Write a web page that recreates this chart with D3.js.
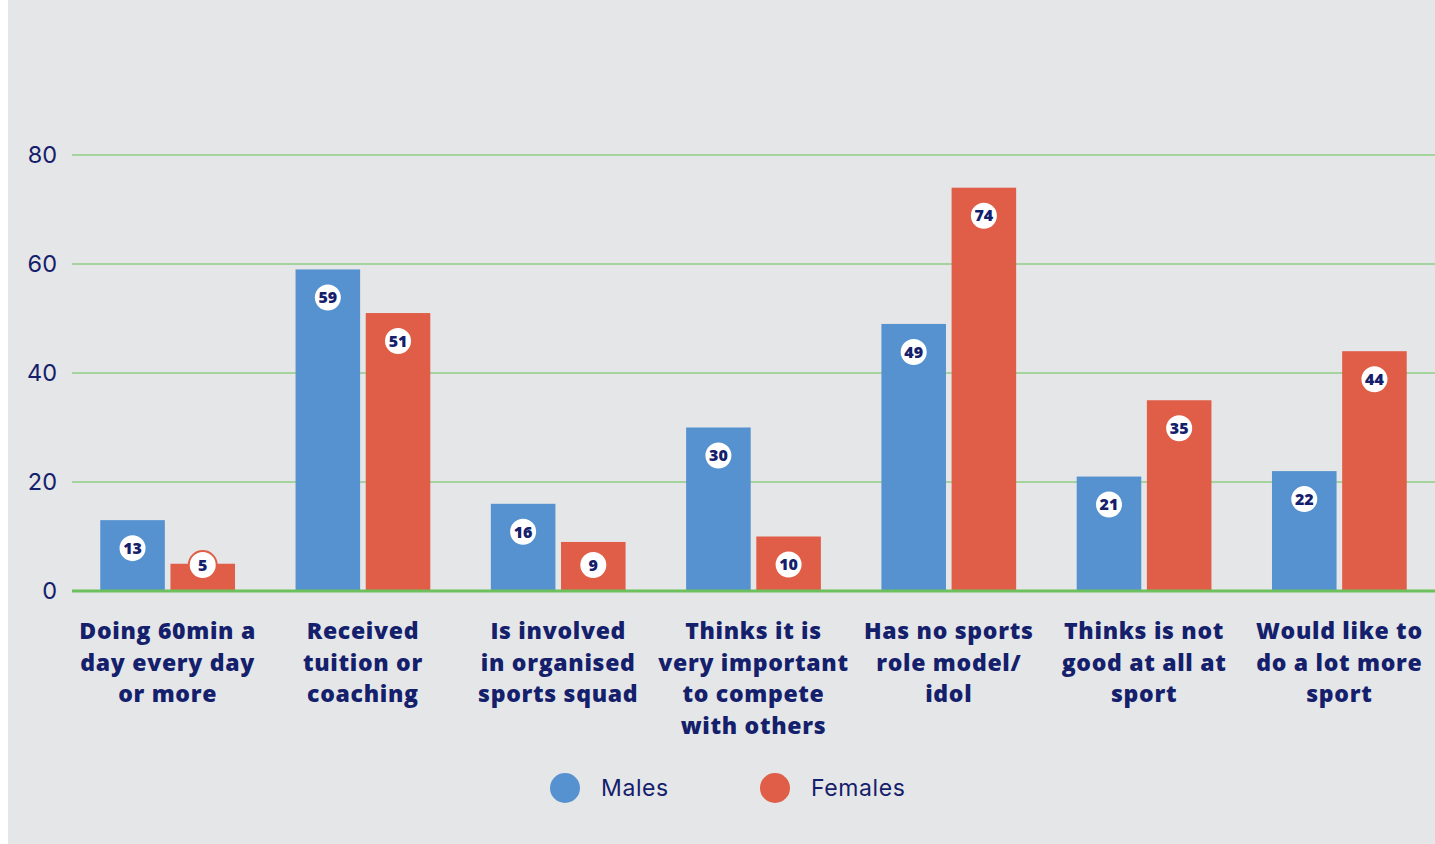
<!DOCTYPE html>
<html>
<head>
<meta charset="utf-8">
<script src="https://cdn.jsdelivr.net/npm/d3@7"></script>
<style>
  html, body { margin: 0; padding: 0; background: #ffffff; }
  svg { display: block; }
</style>
</head>
<body>
<div id="chart"></div>
<script>
// data (percent)
var categories = [
    ["Doing 60min a", "day every day", "or more"],
    ["Received", "tuition or", "coaching"],
    ["Is involved", "in organised", "sports squad"],
    ["Thinks it is", "very important", "to compete", "with others"],
    ["Has no sports", "role model/", "idol"],
    ["Thinks is not", "good at all at", "sport"],
    ["Would like to", "do a lot more", "sport"]
];
var males = [13, 59, 16, 30, 49, 21, 22];
var females = [5, 51, 9, 10, 74, 35, 44];
var seriesNames = ["Males", "Females"];
var yTicks = [0, 20, 40, 60, 80];

var W = 1435, H = 844;
var navy = "#14206b";
var colors = { "Males": "#5592cf", "Females": "#e05e47" };

var svg = d3.select("#chart").append("svg")
    .attr("width", W)
    .attr("height", H);

svg.append("rect")
    .attr("x", 8).attr("y", 0)
    .attr("width", W - 8).attr("height", H)
    .attr("fill", "#e5e6e8");

var y = d3.scaleLinear().domain([0, 80]).range([591, 155]);

var x0 = d3.scaleBand()
    .domain(d3.range(categories.length))
    .range([70, 1437])
    .paddingInner(0.31)
    .paddingOuter(0.155);

var x1 = d3.scaleBand()
    .domain(seriesNames)
    .range([0, x0.bandwidth()])
    .paddingInner(0.08);

// gridlines + tick labels
svg.selectAll(".grid")
    .data(yTicks.filter(t => t > 0))
    .enter().append("line")
    .attr("x1", 72).attr("x2", W)
    .attr("y1", d => y(d)).attr("y2", d => y(d))
    .attr("stroke", "#8fcd86")
    .attr("stroke-width", 1.3);

svg.selectAll(".ytick")
    .data(yTicks)
    .enter().append("text")
    .attr("x", 57)
    .attr("y", d => y(d))
    .attr("dy", "0.35em")
    .attr("text-anchor", "end")
    .attr("font-family", "Inter, 'Open Sans', sans-serif")
    .attr("font-size", 23.5)
    .attr("fill", navy)
    .text(d => d);

var rows = categories.map((c, i) => ({ i: i, Males: males[i], Females: females[i] }));

var groups = svg.selectAll(".group")
    .data(rows)
    .enter().append("g")
    .attr("transform", d => "translate(" + x0(d.i) + ",0)");

var bars = groups.selectAll(".bar")
    .data(d => seriesNames.map(k => ({ key: k, value: d[k] })))
    .enter();

bars.append("rect")
    .attr("x", d => x1(d.key))
    .attr("y", d => y(d.value))
    .attr("width", x1.bandwidth())
    .attr("height", d => y(0) - y(d.value))
    .attr("fill", d => colors[d.key]);

// baseline
svg.append("line")
    .attr("x1", 72).attr("x2", W)
    .attr("y1", y(0)).attr("y2", y(0))
    .attr("stroke", "#6cc15c")
    .attr("stroke-width", 3);

// value badges
var labelY = d => Math.min(y(d.value) + 28, y(0) - 26);

bars.append("circle")
    .attr("cx", d => x1(d.key) + x1.bandwidth() / 2)
    .attr("cy", labelY)
    .attr("r", 14)
    .attr("fill", "#ffffff")
    .attr("stroke", d => colors[d.key])
    .attr("stroke-width", 2);

bars.append("text")
    .attr("x", d => x1(d.key) + x1.bandwidth() / 2)
    .attr("y", labelY)
    .attr("dy", "0.36em")
    .attr("text-anchor", "middle")
    .attr("font-family", "'Open Sans', sans-serif")
    .attr("font-weight", 800)
    .attr("font-size", 16)
    .attr("fill", navy)
    .text(d => d.value);

// category labels
groups.append("text")
    .attr("text-anchor", "middle")
    .attr("font-family", "'Open Sans', sans-serif")
    .attr("font-weight", 800)
    .attr("font-size", 23)
    .attr("letter-spacing", 0.7)
    .attr("fill", navy)
    .selectAll("tspan")
    .data(d => categories[d.i])
    .enter().append("tspan")
    .attr("x", x0.bandwidth() / 2)
    .attr("y", (d, j) => 639 + j * 31.6)
    .text(d => d);

// legend
var legend = svg.selectAll(".legend")
    .data(seriesNames)
    .enter().append("g")
    .attr("transform", (d, i) => "translate(" + (565 + i * 210) + ",788)");

legend.append("circle")
    .attr("r", 15)
    .attr("fill", d => colors[d]);

legend.append("text")
    .attr("x", 36)
    .attr("dy", "0.35em")
    .attr("font-family", "Inter, 'Open Sans', sans-serif")
    .attr("font-size", 23)
    .attr("letter-spacing", 0.6)
    .attr("fill", navy)
    .text(d => d);
</script>
</body>
</html>
